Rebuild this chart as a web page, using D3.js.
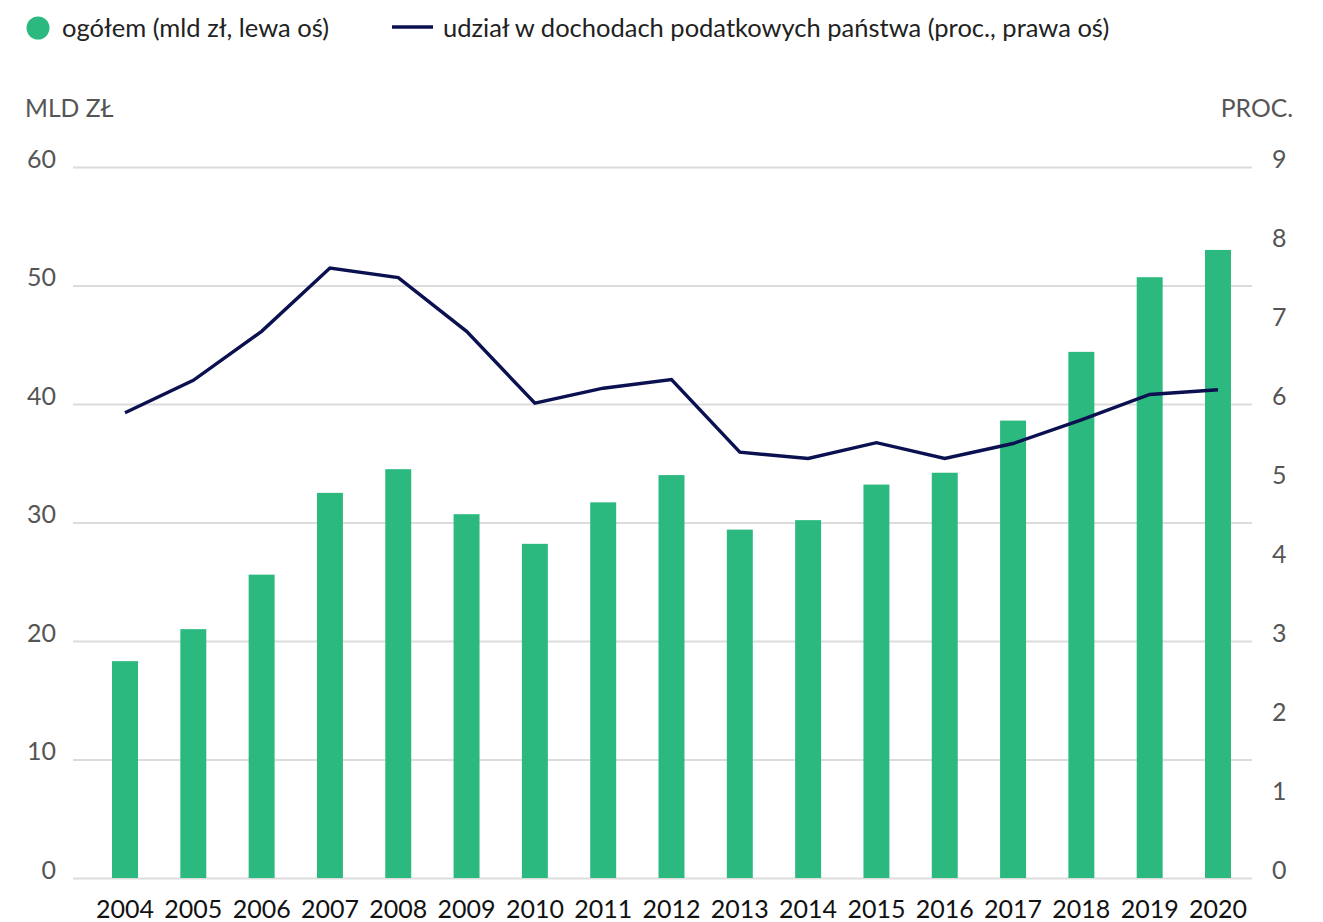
<!DOCTYPE html>
<html>
<head>
<meta charset="utf-8">
<script src="https://cdn.jsdelivr.net/npm/d3@7"></script>
<style>
  html, body { margin: 0; padding: 0; background: #fff; }
  svg { display: block; font-family: Lato, "Noto Sans", sans-serif; }
</style>
</head>
<body>
<svg id="chart" width="1323" height="922"></svg>
<script>
const years = ["2004","2005","2006","2007","2008","2009","2010","2011","2012","2013","2014","2015","2016","2017","2018","2019","2020"];
const totalBn = [18.3, 21.0, 25.6, 32.5, 34.5, 30.7, 28.2, 31.7, 34.0, 29.4, 30.2, 33.2, 34.2, 38.6, 44.4, 50.7, 53.0];
const sharePct = [5.89, 6.30, 6.92, 7.72, 7.60, 6.92, 6.01, 6.20, 6.31, 5.39, 5.31, 5.51, 5.31, 5.50, 5.80, 6.12, 6.18];
const leftTicks = [0, 10, 20, 30, 40, 50, 60];
const rightTicks = [0, 1, 2, 3, 4, 5, 6, 7, 8, 9];
const legendLabels = ["ogółem (mld zł, lewa oś)", "udział w dochodach podatkowych państwa (proc., prawa oś)"];
const axisTitles = ["MLD ZŁ", "PROC."];

const svg = d3.select("#chart");
const green = "#2cb97f";
const navy = "#0b1150";

const x = d3.scaleBand().domain(years).range([90.85, 1252.15]).paddingInner(0.62).paddingOuter(0.31);
const yL = d3.scaleLinear().domain([0, 60]).range([878, 167]);
const yR = d3.scaleLinear().domain([0, 9]).range([878, 167]);

// gridlines
const grid = svg.append("g")
  .attr("transform", "translate(73,0)")
  .call(d3.axisRight(yL).tickValues(leftTicks).tickSize(1179).tickFormat(""));
grid.select(".domain").remove();
grid.selectAll("line").attr("stroke", "#dcdcdc").attr("stroke-width", 2);

// left axis labels
const la = svg.append("g")
  .attr("transform", "translate(56,0)")
  .call(d3.axisLeft(yL).tickValues(leftTicks).tickSize(0).tickPadding(0));
la.select(".domain").remove();
la.selectAll("text").attr("dy", "0").attr("fill", "#555").style("font-size", "25px").style("font-family", "Lato, sans-serif");

// right axis labels
const ra = svg.append("g")
  .attr("transform", "translate(1272,0)")
  .call(d3.axisRight(yR).tickValues(rightTicks).tickSize(0).tickPadding(0));
ra.select(".domain").remove();
ra.selectAll("text").attr("dy", "0").attr("fill", "#555").style("font-size", "25px").style("font-family", "Lato, sans-serif");

// x axis labels
const xa = svg.append("g")
  .attr("transform", "translate(0,918)")
  .call(d3.axisBottom(x).tickSize(0).tickPadding(0));
xa.select(".domain").remove();
xa.selectAll("text").attr("dy", "0").attr("fill", "#111").style("font-size", "25px").style("font-family", "Lato, sans-serif");

// axis titles
svg.append("text").attr("x", 25).attr("y", 117).attr("fill", "#555")
  .style("font-size", "24.7px").text(axisTitles[0]);
svg.append("text").attr("x", 1293).attr("y", 117).attr("fill", "#555")
  .attr("text-anchor", "end").style("font-size", "24.7px").text(axisTitles[1]);

// bars
svg.append("g").selectAll("rect").data(years).join("rect")
  .attr("x", d => x(d))
  .attr("width", x.bandwidth())
  .attr("y", (d, i) => yL(totalBn[i]))
  .attr("height", (d, i) => yL(0) - yL(totalBn[i]))
  .attr("fill", green);

// line
const line = d3.line()
  .x((d, i) => x(years[i]) + x.bandwidth() / 2)
  .y(d => yR(d));
svg.append("path").datum(sharePct)
  .attr("d", line)
  .attr("fill", "none")
  .attr("stroke", navy)
  .attr("stroke-width", 3.4)
  .attr("stroke-linejoin", "miter");

// legend
const lg = svg.append("g");
lg.append("circle").attr("cx", 38).attr("cy", 28).attr("r", 11.5).attr("fill", green);
lg.append("text").attr("x", 62).attr("y", 37).attr("fill", "#222").style("font-size", "25.5px").text(legendLabels[0]);
lg.append("line").attr("x1", 392).attr("x2", 433).attr("y1", 27).attr("y2", 27).attr("stroke", navy).attr("stroke-width", 3.4);
lg.append("text").attr("x", 443).attr("y", 37).attr("fill", "#222").style("font-size", "25.5px").text(legendLabels[1]);
</script>
</body>
</html>
